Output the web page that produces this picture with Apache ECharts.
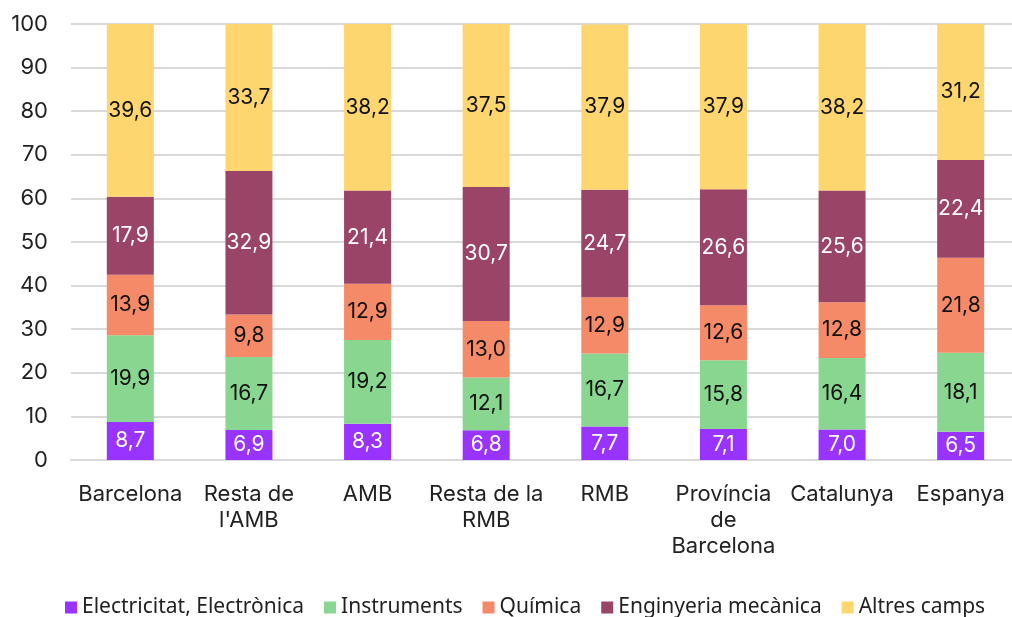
<!DOCTYPE html>
<html>
<head>
<meta charset="utf-8">
<script src="https://cdn.jsdelivr.net/npm/echarts@6/dist/echarts.min.js"></script>
<style>
  html, body { margin: 0; padding: 0; background: #fff; overflow: hidden; }
  /* a bit wider than the window: the plot runs past the right edge like the original */
  #main { width: 1020px; height: 617px; }
</style>
</head>
<body>
<div id="main"></div>
<script>
  // categories and values (percent)
  var categories = ['Barcelona', 'Resta de\nl\'AMB', 'AMB', 'Resta de la\nRMB', 'RMB', 'Província\nde\nBarcelona', 'Catalunya', 'Espanya'];
  var seriesNames = ['Electricitat, Electrònica', 'Instruments', 'Química', 'Enginyeria mecànica', 'Altres camps'];
  var electricitat = [8.7, 6.9, 8.3, 6.8, 7.7, 7.1, 7.0, 6.5];
  var instruments = [19.9, 16.7, 19.2, 12.1, 16.7, 15.8, 16.4, 18.1];
  var quimica = [13.9, 9.8, 12.9, 13.0, 12.9, 12.6, 12.8, 21.8];
  var enginyeria = [17.9, 32.9, 21.4, 30.7, 24.7, 26.6, 25.6, 22.4];
  var altres = [39.6, 33.7, 38.2, 37.5, 37.9, 37.9, 38.2, 31.2];

  var colors = ['#9933ff', '#88d68f', '#f58a68', '#9a4468', '#fed66f'];
  var labelColors = ['#ffffff', '#111111', '#111111', '#ffffff', '#111111'];
  var allData = [electricitat, instruments, quimica, enginyeria, altres];

  var myChart = echarts.init(document.getElementById('main'));

  var series = allData.map(function (d, i) {
    return {
      name: seriesNames[i],
      type: 'bar',
      stack: 'total',
      barWidth: 47,
      data: d,
      itemStyle: { color: colors[i] },
      label: {
        show: true,
        position: 'inside',
        color: labelColors[i],
        fontSize: 21,
        fontFamily: 'Inter',
        formatter: function (p) { return p.value.toFixed(1).replace('.', ','); }
      }
    };
  });

  var option = {
    animation: false,
    color: colors,
    grid: { left: 71, top: 24, right: 0, height: 436 },
    legend: {
      top: 592,
      left: 60,
      icon: 'rect',
      itemWidth: 12,
      itemHeight: 12,
      itemGap: 20,
      textStyle: { color: '#222', fontSize: 21, fontFamily: 'Noto Sans' },
      data: seriesNames
    },
    xAxis: {
      type: 'category',
      data: categories,
      axisLine: { lineStyle: { color: '#d9d9d9', width: 2 } },
      axisTick: { show: false },
      axisLabel: {
        color: '#222',
        fontSize: 22,
        fontFamily: 'Inter',
        lineHeight: 26,
        margin: 21,
        interval: 0
      }
    },
    yAxis: {
      type: 'value',
      min: 0,
      max: 100,
      interval: 10,
      axisLine: { show: false },
      axisTick: { show: false },
      splitLine: { lineStyle: { color: '#d9d9d9', width: 2 } },
      axisLabel: { color: '#222', fontSize: 22, fontFamily: 'Inter', margin: 23 }
    },
    series: series
  };

  myChart.setOption(option);
</script>
</body>
</html>
